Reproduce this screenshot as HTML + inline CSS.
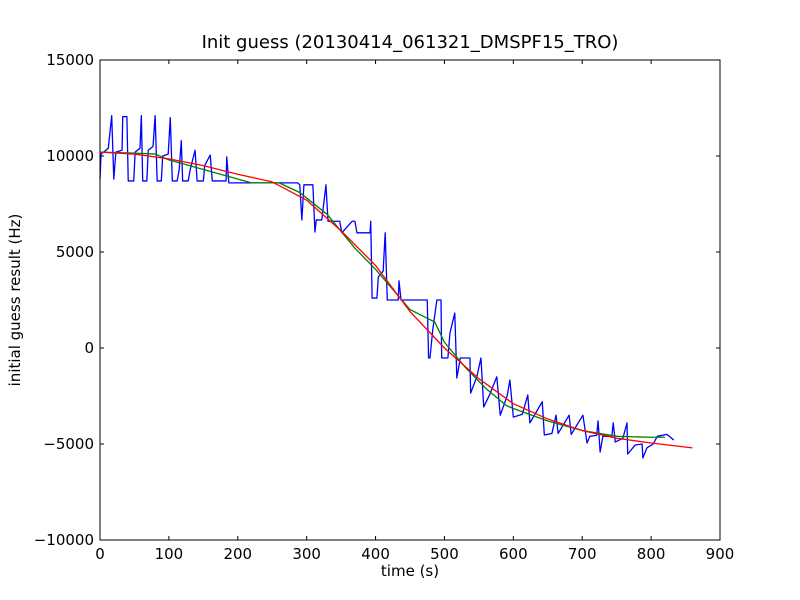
<!DOCTYPE html>
<html><head><meta charset="utf-8"><style>
body{margin:0;background:#fff;}
svg{display:block;font-family:"DejaVu Sans","Liberation Sans",sans-serif;}
</style></head><body>
<svg id="chart" width="800" height="600">
<rect width="800" height="600" fill="#fff"/>
<text x="410" y="48" font-size="18" text-anchor="middle">Init guess (20130414_061321_DMSPF15_TRO)</text>
<text x="410" y="576" font-size="15" text-anchor="middle">time (s)</text>
<text transform="translate(20,300) rotate(-90)" font-size="15" text-anchor="middle">initial guess result (Hz)</text>
<g id="plot"></g>
</svg>
<script>
const xTicks=[0,100,200,300,400,500,600,700,800,900];
const yTicks=[-10000,-5000,0,5000,10000,15000];
const blueT=[0,1.5,12,17,20,23,32,33,39,41,49,51,58,60,62,68,70,77,80,83,89,91,99,102,105,112,115,118,120,128,131,138,141,150,152,160,163,183,184,187,287,290,293,296,309,312,314,322,328,331,348,351,366,370,373,392,393,395,402,404,411,414,417,433,434,437,475,477,479,483,489,495,496,505,508,515,518,523,537,538,547,553,557,566,576,581,591,595,600,613,621,624,642,645,656,662,665,681,684,701,707,711,721,723,726,730,743,745,748,759,765,766,777,787,788,794,803,809,823,833];
const blueV=[8800,10100,10400,12100,8800,10200,10300,12050,12050,8700,8700,10200,10400,12100,8700,8700,10300,10500,12100,8700,8700,10000,10100,12000,8700,8700,9300,10800,8700,8700,9300,10300,8700,8700,9500,10050,8700,8700,9950,8600,8600,8500,6670,8500,8500,6040,6670,6670,8500,6600,6600,6000,6600,6600,6000,6000,6600,2600,2600,3700,4000,6000,2500,2500,3500,2500,2500,-520,-520,940,2500,2500,-520,-520,780,1820,-1560,-520,-520,-2350,-1500,-520,-3070,-2400,-1500,-3500,-2500,-1670,-3600,-3450,-2450,-3900,-2800,-4530,-4450,-3500,-4450,-3500,-4500,-3500,-4950,-4600,-4550,-3800,-5420,-4600,-4600,-3900,-4900,-4700,-3900,-5520,-5050,-5000,-5730,-5200,-5000,-4600,-4500,-4800];
const greenT=[0,50,80,100,150,190,220,260,290,330,370,400,450,486,500,530,560,590,600,650,700,750,800,820];
const greenV=[10200,10150,10100,9800,9300,8900,8600,8600,8100,6950,5200,4100,2000,1350,300,-1000,-2100,-3000,-3150,-3800,-4300,-4600,-4650,-4650];
const redT=[0,50,100,150,200,250,300,350,400,450,500,550,600,650,700,750,800,860];
const redV=[10200,10100,9850,9500,9050,8650,7700,6100,4300,1900,0,-1600,-2900,-3700,-4300,-4700,-4950,-5200];

const L=100,R=720,T=60,B=540;
const sx=t=>L+t*(R-L)/900;
const sy=v=>T+(15000-v)*(B-T)/25000;
const NS="http://www.w3.org/2000/svg";
const g=document.getElementById('plot');
function mk(tag,attrs){const e=document.createElementNS(NS,tag);for(const k in attrs)e.setAttribute(k,attrs[k]);g.appendChild(e);return e;}
function line(ts,vs,color,name){
  const p=mk('polyline',{points:ts.map((t,i)=>sx(t)+','+sy(vs[i])).join(' '),fill:'none',stroke:color,'stroke-width':1.3,'stroke-linejoin':'round'});
  
  
}
line(blueT,blueV,'#0000ff','blue-series');
line(greenT,greenV,'#008000','green-series');
line(redT,redV,'#ff0000','red-series');
const fr=mk('rect',{x:L,y:T,width:R-L,height:B-T,fill:'none',stroke:'#000','stroke-width':1});


xTicks.forEach(t=>{
  const x=sx(t);
  mk('line',{x1:x,y1:B,x2:x,y2:B-4,stroke:'#000'});
  mk('line',{x1:x,y1:T,x2:x,y2:T+4,stroke:'#000'});
  const tx=mk('text',{x:x,y:B+19,'font-size':15,'text-anchor':'middle'});
  tx.textContent=String(t);
  
  
});
yTicks.forEach(v=>{
  const y=sy(v);
  mk('line',{x1:L,y1:y,x2:L+4,y2:y,stroke:'#000'});
  mk('line',{x1:R,y1:y,x2:R-4,y2:y,stroke:'#000'});
  const tx=mk('text',{x:L-6,y:y+5,'font-size':15,'text-anchor':'end'});
  tx.textContent=String(v).replace('-','\u2212');
  
  
});
</script>
</body></html>
